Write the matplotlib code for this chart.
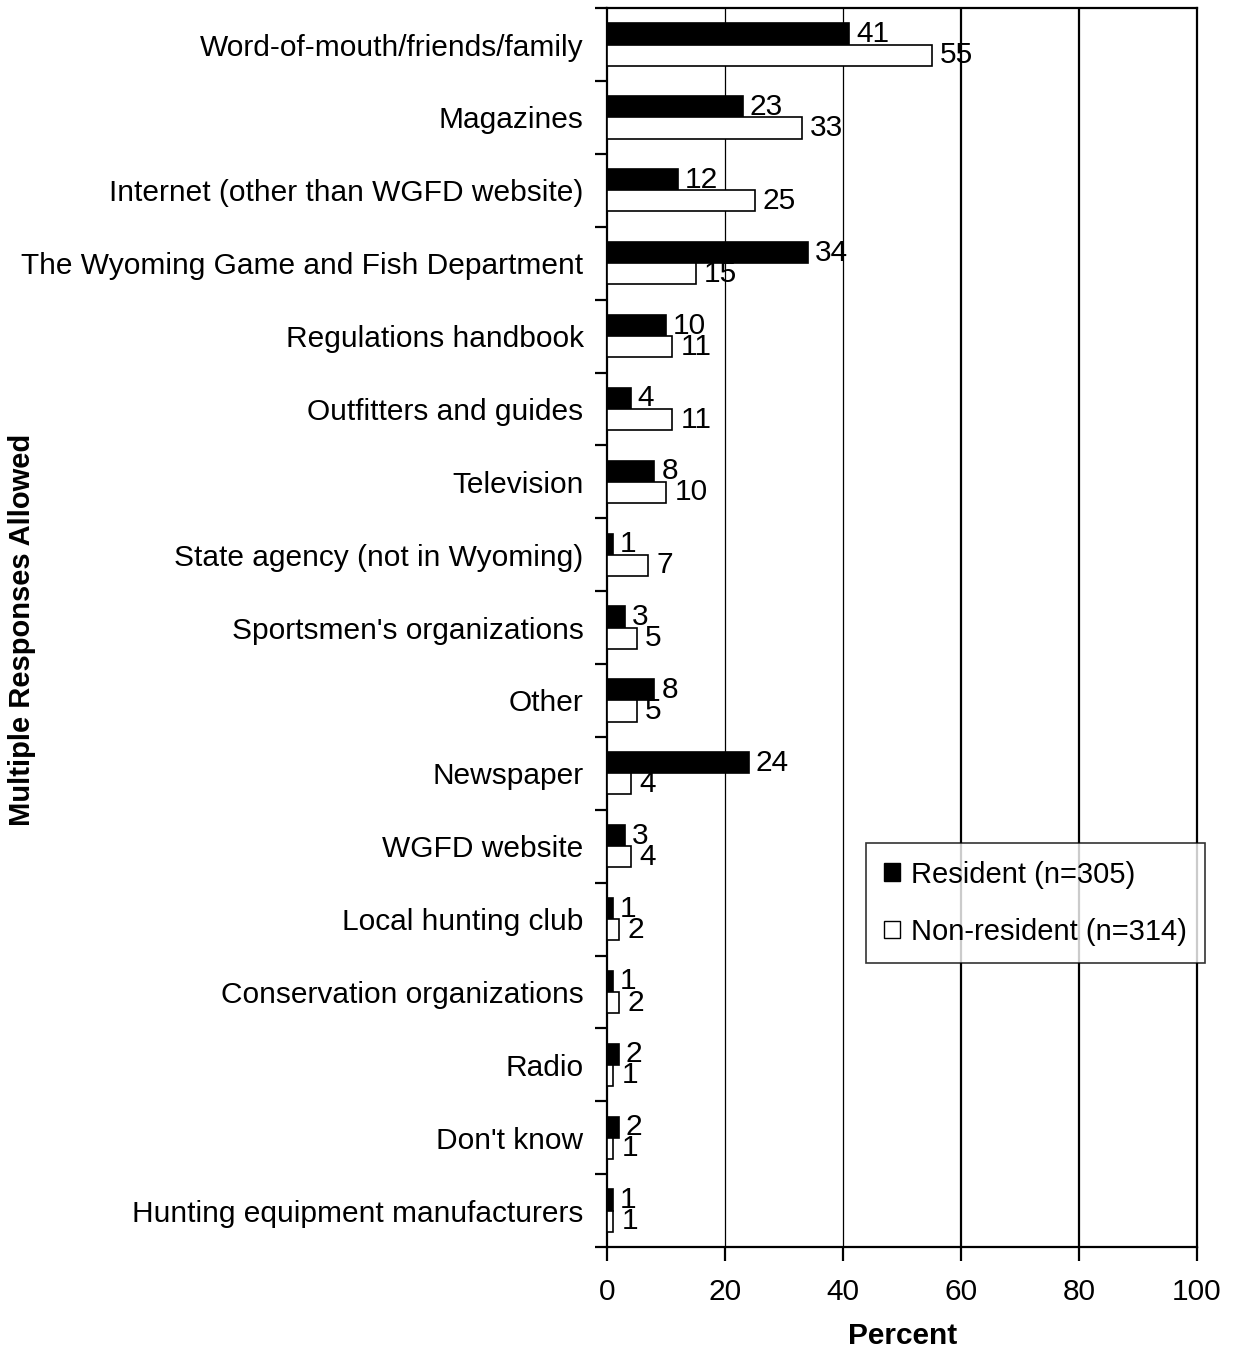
import matplotlib.pyplot as plt
import numpy as np
from matplotlib.patches import Patch

plt.rcParams['font.family'] = ['Liberation Sans', 'DejaVu Sans']

categories = ["Word-of-mouth/friends/family", "Magazines",
              "Internet (other than WGFD website)",
              "The Wyoming Game and Fish Department", "Regulations handbook",
              "Outfitters and guides", "Television",
              "State agency (not in Wyoming)", "Sportsmen's organizations",
              "Other", "Newspaper", "WGFD website", "Local hunting club",
              "Conservation organizations", "Radio", "Don't know",
              "Hunting equipment manufacturers"]
resident = [41, 23, 12, 34, 10, 4, 8, 1, 3, 8, 24, 3, 1, 1, 2, 2, 1]
nonresident = [55, 33, 25, 15, 11, 11, 10, 7, 5, 5, 4, 4, 2, 2, 1, 1, 1]
xticks = [0, 20, 40, 60, 80, 100]

fig = plt.figure(figsize=(12.34, 13.54), dpi=100)
ax = fig.add_axes([0.492, 0.079, 0.478, 0.915])

y = np.arange(len(categories))
h = 0.29
ax.barh(y - h / 2, resident, height=h, color='black', edgecolor='black', lw=1.2, zorder=3)
ax.barh(y + h / 2, nonresident, height=h, color='white', edgecolor='black', lw=1.2, zorder=3)

for yi, r, n in zip(y, resident, nonresident):
    ax.annotate(str(r), (r, yi - h / 2), xytext=(5, 0), textcoords='offset points',
                va='center', ha='left', fontsize=21.5)
    ax.annotate(str(n), (n, yi + h / 2), xytext=(6, 0), textcoords='offset points',
                va='center', ha='left', fontsize=21.5)

# gridlines
for xv, lw in zip([20, 40, 60, 80], [0.9, 0.9, 1.6, 1.6]):
    ax.axvline(xv, color='black', lw=lw, zorder=1)

ax.set_xlim(0, 100)
ax.set_ylim(len(categories) - 0.5, -0.5)
ax.set_xticks(xticks)
ax.set_xticklabels([str(v) for v in xticks], fontsize=21.5)
ax.tick_params(axis='x', length=10, width=1.6, pad=12)

ax.set_yticks(y)
ax.set_yticklabels(categories, fontsize=21.5)
ax.set_yticks(np.arange(len(categories) + 1) - 0.5, minor=True)
ax.tick_params(axis='y', which='major', length=0, pad=17)
ax.tick_params(axis='y', which='minor', length=9, width=1.6)

for s in ax.spines.values():
    s.set_linewidth(1.6)

fig.text(903 / 1234, 1 - 1336 / 1354, 'Percent', fontsize=21.5, fontweight='bold',
         ha='center', va='center')
fig.text(22 / 1234, 1 - 630 / 1354, 'Multiple Responses Allowed', rotation=90,
         fontsize=21, fontweight='bold', ha='center', va='center')

handles = [Patch(facecolor='black', edgecolor='black', label='Resident (n=305)'),
           Patch(facecolor='white', edgecolor='black', label='Non-resident (n=314)')]
leg = ax.legend(handles=handles, loc='upper left', bbox_to_anchor=(0.7018, 0.3774),
                bbox_transform=fig.transFigure, fontsize=21, frameon=True,
                fancybox=False, handlelength=0.55, handleheight=0.55, handletextpad=0.4,
                labelspacing=1.0, borderpad=0.6, borderaxespad=0)
leg.get_frame().set_edgecolor('black')
leg.get_frame().set_linewidth(1.2)
leg.set_zorder(5)

fig.savefig('out.png', dpi=100)
